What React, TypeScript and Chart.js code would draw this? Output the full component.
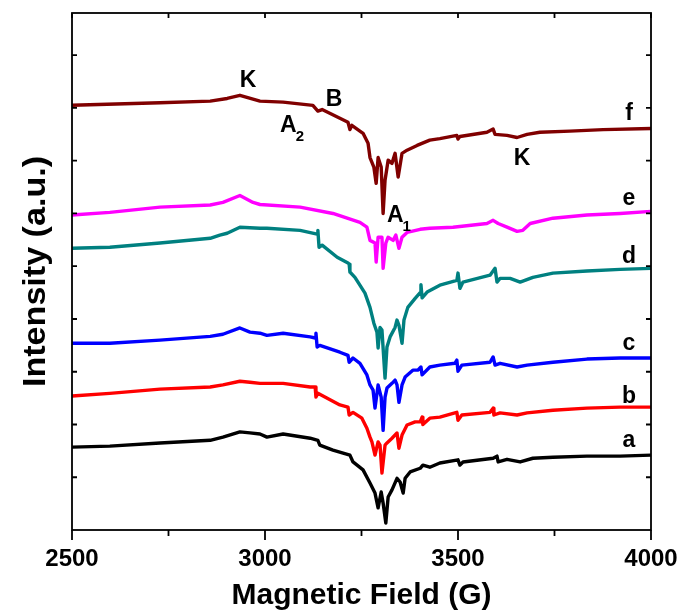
import React, { useEffect, useRef } from 'react';
import { Chart, registerables } from 'chart.js';

Chart.register(...registerables);

const FONT = '"Liberation Sans", Arial, Helvetica, sans-serif';

// Axis ranges (Magnetic field in G, intensity in arbitrary units)
const fieldMin = 2500;
const fieldMax = 4000;
const fieldStep = 250;
const intensityMin = 0;
const intensityMax = 98;
const intensityStep = 10;

// EPR spectra [field (G), intensity (a.u.)]
const seriesA: [number, number][] = [
  [2500, 15.7], [2598, 15.9], [2728, 16.5], [2858, 17.0], [2891, 17.6], [2935, 18.6], [2961, 18.4],
  [2987, 18.2], [3005, 17.6], [3047, 18.2], [3117, 17.4], [3137, 17.0], [3142, 16.1], [3176, 15.15],
  [3220, 14.2], [3228, 12.9], [3254, 11.4], [3272, 8.9], [3285, 7.0], [3293, 4.2], [3301, 7.2],
  [3306, 5.1], [3313, 1.3], [3319, 6.25], [3329, 7.6], [3342, 9.8], [3350, 9.1], [3358, 7.0],
  [3363, 9.8], [3376, 11.0], [3402, 11.7], [3409, 12.3], [3427, 11.9], [3453, 12.7], [3500, 13.3],
  [3505, 12.3], [3513, 12.9], [3591, 13.6], [3601, 14.0], [3604, 12.9], [3627, 13.4], [3661, 12.9],
  [3694, 13.6], [3746, 13.8], [3834, 14.0], [3920, 14.0], [4000, 14.2],
];

const seriesB: [number, number][] = [
  [2500, 25.4], [2598, 25.9], [2728, 26.7], [2858, 27.1], [2891, 27.5], [2935, 28.2], [2961, 28.0],
  [2987, 27.8], [3047, 27.8], [3117, 27.1], [3130, 27.1], [3132, 25.2], [3137, 25.9], [3194, 23.7],
  [3215, 23.3], [3218, 21.8], [3228, 22.3], [3251, 21.2], [3264, 19.3], [3272, 17.6], [3277, 16.7],
  [3285, 14.2], [3293, 16.7], [3298, 16.1], [3303, 10.8], [3311, 16.1], [3316, 16.5], [3329, 17.4],
  [3342, 18.4], [3347, 15.5], [3355, 18.0], [3368, 19.9], [3389, 20.5], [3402, 20.5], [3407, 21.4],
  [3409, 20.0], [3427, 21.2], [3453, 21.4], [3492, 22.2], [3497, 22.3], [3500, 20.8], [3510, 21.8],
  [3583, 22.3], [3591, 23.1], [3593, 21.8], [3609, 22.2], [3653, 21.8], [3679, 22.2], [3746, 22.7],
  [3834, 23.1], [3920, 23.3], [4000, 23.3],
];

const seriesC: [number, number][] = [
  [2500, 35.4], [2598, 35.4], [2728, 36.0], [2858, 36.7], [2891, 37.1], [2935, 38.3], [2961, 37.5],
  [2987, 37.3], [3005, 36.9], [3047, 37.3], [3117, 36.6], [3130, 36.4], [3132, 37.3], [3135, 34.7],
  [3142, 35.0], [3194, 33.7], [3215, 33.1], [3218, 31.8], [3228, 32.6], [3246, 31.6], [3264, 29.4],
  [3272, 27.5], [3280, 26.5], [3285, 23.1], [3293, 27.5], [3301, 25.2], [3306, 18.9], [3311, 25.2],
  [3316, 26.9], [3329, 27.8], [3337, 28.4], [3342, 27.5], [3347, 24.2], [3355, 27.5], [3363, 29.0],
  [3383, 30.3], [3396, 30.3], [3404, 30.9], [3407, 29.4], [3427, 30.9], [3453, 31.25], [3492, 31.6],
  [3497, 32.2], [3500, 30.1], [3510, 31.25], [3583, 31.8], [3591, 32.8], [3596, 31.25], [3609, 31.6],
  [3653, 30.9], [3679, 31.25], [3746, 31.8], [3834, 32.4], [3920, 32.6], [4000, 32.6],
];

const seriesD: [number, number][] = [
  [2500, 53.4], [2598, 53.6], [2728, 54.4], [2858, 55.3], [2883, 55.9], [2902, 56.25], [2935, 57.4],
  [2987, 57.2], [3005, 57.2], [3091, 56.8], [3135, 56.1], [3137, 56.8], [3140, 53.6], [3148, 54.0],
  [3187, 51.7], [3215, 50.6], [3218, 50.4], [3220, 48.9], [3233, 47.9], [3238, 47.3], [3259, 44.9],
  [3272, 42.2], [3282, 39.2], [3290, 37.5], [3293, 34.5], [3298, 38.4], [3303, 37.9], [3311, 28.8],
  [3316, 34.7], [3324, 36.6], [3337, 38.4], [3342, 39.8], [3347, 38.8], [3355, 35.4], [3360, 39.8],
  [3370, 42.2], [3389, 43.9], [3402, 45.0], [3404, 46.5], [3407, 44.0], [3420, 45.1], [3453, 46.4],
  [3497, 47.3], [3500, 48.7], [3505, 45.8], [3513, 47.0], [3583, 48.3], [3596, 49.6], [3601, 47.0],
  [3609, 47.7], [3635, 47.7], [3661, 47.0], [3694, 47.9], [3746, 48.7], [3834, 49.1], [3920, 49.4],
  [4000, 49.6],
];

const seriesE: [number, number][] = [
  [2500, 59.7], [2598, 60.2], [2728, 61.2], [2858, 61.6], [2891, 62.1], [2935, 63.4], [2969, 62.1],
  [2987, 61.7], [3091, 61.2], [3176, 60.0], [3246, 58.3], [3264, 57.4], [3272, 54.9], [3285, 54.4],
  [3288, 50.8], [3293, 55.5], [3303, 55.5], [3306, 49.6], [3313, 54.4], [3319, 55.5], [3332, 54.9],
  [3339, 55.9], [3347, 53.4], [3355, 55.5], [3368, 56.4], [3402, 57.0], [3427, 57.2], [3487, 57.4],
  [3575, 58.1], [3591, 58.7], [3604, 58.1], [3627, 57.4], [3653, 56.6], [3668, 56.8], [3687, 58.1],
  [3746, 59.1], [3834, 59.7], [3920, 60.0], [4000, 60.4],
];

const seriesF: [number, number][] = [
  [2500, 80.5], [2728, 81.0], [2858, 81.3], [2902, 81.8], [2935, 82.4], [2987, 81.3], [3047, 81.1],
  [3124, 80.5], [3137, 79.4], [3148, 79.7], [3215, 77.3], [3220, 75.9], [3225, 76.7], [3254, 75.2],
  [3267, 73.3], [3272, 70.6], [3282, 68.8], [3288, 65.7], [3293, 70.6], [3301, 68.8], [3306, 60.0],
  [3311, 66.3], [3319, 70.1], [3329, 69.5], [3337, 71.4], [3345, 66.9], [3355, 71.4], [3368, 72.0],
  [3394, 72.9], [3427, 73.9], [3453, 74.2], [3497, 74.8], [3500, 74.1], [3505, 74.6], [3575, 75.4],
  [3591, 76.0], [3596, 75.0], [3627, 74.8], [3653, 74.4], [3679, 75.0], [3712, 75.4], [3790, 75.6],
  [3876, 75.9], [4000, 76.1],
];

const seriesNames = ['a', 'b', 'c', 'd', 'e', 'f'];
const seriesData = [seriesA, seriesB, seriesC, seriesD, seriesE, seriesF];
const seriesColors = ['#000000', '#ff0000', '#0000ff', '#008080', '#ff00ff', '#800000'];

// Curve name labels placed at the right end (field, intensity baseline)
const nameLabelField = 3943;
const nameLabelLevels = [15.7, 24.1, 34.1, 50.6, 61.6, 77.7];

// Feature annotations on spectrum f
const annotationTexts = ['K', 'B', 'A', 'A', 'K'];
const annotationSubs = ['', '', '2', '1', ''];
const annotationFields = [2956, 3179, 3039, 3316, 3666];
const annotationLevels = [83.9, 80.3, 75.4, 58.3, 69.1];
const annotationAligns: CanvasTextAlign[] = ['center', 'center', 'left', 'left', 'center'];

const xTitle = 'Magnetic Field (G)';
const yTitle = 'Intensity (a.u.)';

export default function App() {
  const ref = useRef<HTMLCanvasElement>(null);

  useEffect(() => {
    document.body.style.margin = '0';
    document.body.style.overflow = 'hidden';
    const canvas = ref.current;
    if (!canvas) return;

    const framePlugin = {
      id: 'framePlugin',
      afterDatasetsDraw(chart: any) {
        const { ctx, chartArea, scales } = chart;
        const { left, right, top, bottom } = chartArea;
        const xs = scales.x;
        const ys = scales.y;
        ctx.save();
        ctx.strokeStyle = '#000';
        ctx.lineWidth = 1.8;
        ctx.strokeRect(left, top, right - left, bottom - top);
        ctx.beginPath();
        xs.ticks.forEach((t: any) => {
          const px = xs.getPixelForValue(t.value);
          const major = t.value % 500 === 0;
          ctx.moveTo(px, bottom);
          ctx.lineTo(px, bottom + (major ? 10 : 6));
          ctx.moveTo(px, top);
          ctx.lineTo(px, top + 5);
        });
        ys.ticks.forEach((t: any) => {
          if (t.value <= intensityMin) return;
          const py = ys.getPixelForValue(t.value);
          ctx.moveTo(left, py);
          ctx.lineTo(left + 5, py);
          ctx.moveTo(right, py);
          ctx.lineTo(right - 5, py);
        });
        ctx.stroke();

        ctx.fillStyle = '#000';
        ctx.textBaseline = 'alphabetic';
        ctx.font = `bold 23px ${FONT}`;
        ctx.textAlign = 'center';
        seriesNames.forEach((name, i) => {
          ctx.fillText(name, xs.getPixelForValue(nameLabelField), ys.getPixelForValue(nameLabelLevels[i]));
        });

        annotationTexts.forEach((txt, i) => {
          const px = xs.getPixelForValue(annotationFields[i]);
          const py = ys.getPixelForValue(annotationLevels[i]);
          ctx.font = `bold 23px ${FONT}`;
          ctx.textAlign = annotationAligns[i];
          ctx.fillText(txt, px, py);
          if (annotationSubs[i]) {
            const w = ctx.measureText(txt).width;
            ctx.font = `bold 15px ${FONT}`;
            ctx.textAlign = 'left';
            ctx.fillText(annotationSubs[i], px + w - 1, py + 9);
          }
        });

        // axis titles
        ctx.font = `bold 30px ${FONT}`;
        ctx.textAlign = 'center';
        ctx.fillText(xTitle, (left + right) / 2, 604);
        ctx.save();
        ctx.translate(45, (top + bottom) / 2);
        ctx.rotate(-Math.PI / 2);
        ctx.scale(1.1, 1);
        ctx.font = `bold 31px ${FONT}`;
        ctx.fillText(yTitle, 0, 0);
        ctx.restore();
        ctx.restore();
      },
    };

    const chart = new Chart(canvas, {
      type: 'line',
      data: {
        datasets: seriesData.map((s, i) => ({
          label: seriesNames[i],
          data: s.map(([x, y]) => ({ x, y })),
          borderColor: seriesColors[i],
          backgroundColor: seriesColors[i],
          borderWidth: 3.4,
          borderJoinStyle: 'round',
          borderCapStyle: 'round',
          pointRadius: 0,
          tension: 0,
          fill: false,
        })),
      },
      options: {
        responsive: false,
        animation: false,
        layout: { padding: { top: 13, right: 30, left: 0, bottom: 0 } },
        plugins: { legend: { display: false }, tooltip: { enabled: false }, title: { display: false } },
        scales: {
          x: {
            type: 'linear',
            min: fieldMin,
            max: fieldMax,
            grid: { display: false },
            border: { display: false },
            ticks: {
              stepSize: fieldStep,
              autoSkip: false,
              maxRotation: 0,
              padding: 7,
              color: '#000',
              font: { family: FONT, size: 24, weight: 'bold' },
              callback: (v: any) => (Number(v) % 500 === 0 ? String(v) : ''),
            },
            afterFit: (s: any) => { s.height = 83; s.paddingLeft = 0; s.paddingRight = 0; },
          },
          y: {
            type: 'linear',
            min: intensityMin,
            max: intensityMax,
            grid: { display: false },
            border: { display: false },
            ticks: { stepSize: intensityStep, includeBounds: false, display: false },
            afterFit: (s: any) => { s.width = 72; s.paddingTop = 0; s.paddingBottom = 0; },
          },
        },
      },
      plugins: [framePlugin],
    });
    return () => chart.destroy();
  }, []);

  return <canvas ref={ref} width={681} height={613} style={{ display: 'block' }} />;
}
